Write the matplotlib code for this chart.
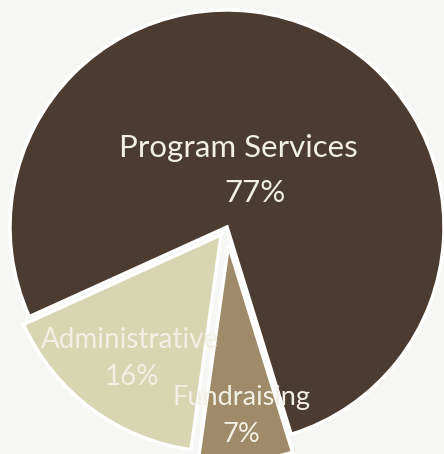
import matplotlib

matplotlib.use("Agg")
import matplotlib.pyplot as plt

# slice data, in drawing order (counter-clockwise from start angle)
categories = ["Administrative", "Fundraising", "Program Services"]
shares = [16, 7, 77]
colors = ["#d8d5b2", "#9f8a69", "#4c3b30"]
explode = [0.045, 0.083, 0.0]

# (name baseline xy, percent baseline xy, font size)
label_pos = {
    "Program Services": ((0.051, 0.323), (0.129, 0.115), 22.5),
    "Administrative": ((-0.447, -0.558), (-0.438, -0.728), 20),
    "Fundraising": ((0.069, -0.820), (0.065, -0.991), 19.5),
}

fig = plt.figure(figsize=(4.44, 4.54), dpi=100)
fig.patch.set_facecolor("#f6f6f4")
ax = fig.add_axes([0, 0, 1, 1])
ax.set_facecolor("#f6f6f4")

ax.pie(
    shares,
    colors=colors,
    explode=explode,
    startangle=204.4,
    counterclock=True,
    radius=1.0,
    center=(0, 0),
    wedgeprops={"edgecolor": "white", "linewidth": 2.5},
)

for name, share in zip(categories, shares):
    (nx, ny), (px, py), fs = label_pos[name]
    ax.text(nx, ny, name, ha="center", va="baseline", fontsize=fs,
            color="#f2efe4", family="Lato")
    ax.text(px, py, f"{share}%", ha="center", va="baseline", fontsize=fs,
            color="#f2efe4", family="Lato")

ax.set_xlim(-227 / 217, 217 / 217)
ax.set_ylim(-227 / 217, 227 / 217)
ax.set_aspect("equal", adjustable="box")
ax.axis("off")

fig.savefig("out.png", dpi=100, facecolor=fig.get_facecolor())
plt.close(fig)
